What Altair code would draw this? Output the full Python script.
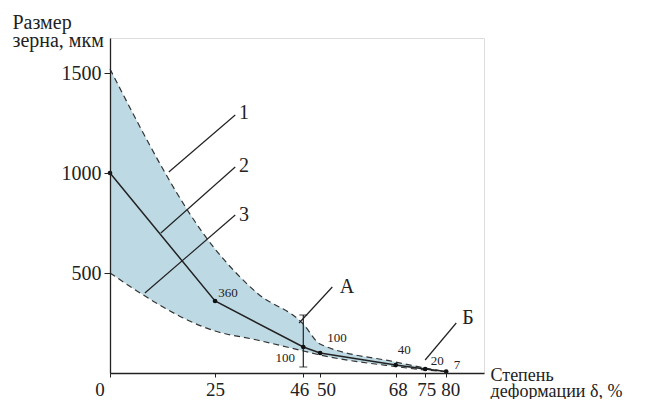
import altair as alt
import pandas as pd

FONT = "Liberation Serif"

# main curve (2)
main_x = [0, 25, 46, 50, 68, 75, 80]
main_y = [1000, 360, 130, 100, 40, 20, 7]

# band: upper (1) and lower (3) dashed boundaries
band_x = [0, 25, 35, 46, 50, 68, 75, 80]
upper_y = [1520, 620, 400, 245, 145, 55, 25, 7]
lower_y = [500, 210, 165, 110, 90, 32, 15, 7]

# error bar at 46 %
err_x = [46]
err_lo = [30]
err_hi = [290]

# small value labels
val_text = ["360", "100", "100", "40", "20", "7"]
val_x = [28.1, 54.0, 41.7, 70.0, 77.9, 82.6]
val_y = [400, 175, 75, 115, 60, 40]

# leader lines and their labels
lead_x = [14.0, 12.1, 8.3, 45.0, 75.0]
lead_y = [1005, 700, 400, 250, 65]
lead_x2 = [29.8, 29.8, 29.8, 52.9, 82.4]
lead_y2 = [1290, 1030, 790, 430, 250]
lead_text = ["1", "2", "3", "А", "Б"]
lead_tx = [31.9, 31.9, 31.9, 56.4, 85.2]
lead_ty = [1300, 1035, 790, 428, 275]

x_ticks = [0, 25, 46, 50, 68, 75, 80]
y_ticks = [500, 1000, 1500]

main_df = pd.DataFrame({"x": main_x, "y": main_y})
band_df = pd.DataFrame({"x": band_x, "up": upper_y, "lo": lower_y})
err_df = pd.DataFrame({"x": err_x, "lo": err_lo, "hi": err_hi})
val_df = pd.DataFrame({"x": val_x, "y": val_y, "t": val_text})
lead_df = pd.DataFrame({"x": lead_x, "y": lead_y, "x2": lead_x2, "y2": lead_y2})
lab_df = pd.DataFrame({"x": lead_tx, "y": lead_ty, "t": lead_text})
zero_df = pd.DataFrame({"x": [-2.4], "y": [-84], "t": ["0"]})

xs = alt.Scale(domain=[0, 89], nice=False, zero=False)
ys = alt.Scale(domain=[0, 1675], nice=False, zero=False)

label_shift = {
    "condition": [
        {"test": "datum.value == 46", "value": -4},
        {"test": "datum.value == 50", "value": 6},
        {"test": "datum.value == 68", "value": 2},
        {"test": "datum.value == 75", "value": 1},
        {"test": "datum.value == 80", "value": 4},
    ],
    "value": 0,
}

xaxis = alt.Axis(values=x_ticks, format="d",
                 labelExpr="datum.value == 0 ? '' : datum.label",
                 labelOffset=label_shift,
                 grid=False, domainColor="#222", domainWidth=1.3, tickColor="#222",
                 tickSize=4, labelPadding=3, labelFont=FONT, labelFontSize=19,
                 labelColor="#222", title=["Степень", "деформации δ, %"],
                 titleFont=FONT, titleFontSize=18, titleFontWeight="normal",
                 titleColor="#222", titleAngle=0, titleAlign="left",
                 titleBaseline="alphabetic", titleX=380, titleY=7, titleLineHeight=16,
                 labelFlush=False, labelOverlap=False, zindex=1)
yaxis = alt.Axis(values=y_ticks, format="d", grid=False, domainColor="#222",
                 domainWidth=1.3, tickColor="#222", tickSize=6, labelPadding=3,
                 labelFont=FONT, labelFontSize=20, labelColor="#222",
                 title=["Размер", "зерна, мкм"],
                 titleFont=FONT, titleFontSize=20, titleFontWeight="normal",
                 titleColor="#222", titleAngle=0, titleAlign="left",
                 titleBaseline="alphabetic", titleX=-98, titleY=-10, titleLineHeight=18,
                 labelFlush=False, zindex=1)

base_band = alt.Chart(band_df)
area = base_band.mark_area(color="#b9d7e1", opacity=0.95, interpolate="monotone").encode(
    x=alt.X("x:Q", scale=xs, axis=xaxis),
    y=alt.Y("up:Q", scale=ys, axis=yaxis),
    y2="lo:Q",
)
up_line = base_band.mark_line(color="#333", strokeWidth=1.2, strokeDash=[6, 4],
                              interpolate="monotone").encode(
    x=alt.X("x:Q", scale=xs), y=alt.Y("up:Q", scale=ys))
lo_line = base_band.mark_line(color="#333", strokeWidth=1.2, strokeDash=[6, 4],
                              interpolate="monotone").encode(
    x=alt.X("x:Q", scale=xs), y=alt.Y("lo:Q", scale=ys))

main_line = alt.Chart(main_df).mark_line(color="#222", strokeWidth=1.5).encode(
    x=alt.X("x:Q", scale=xs), y=alt.Y("y:Q", scale=ys))
main_pts = alt.Chart(main_df).mark_circle(color="#111", size=22, opacity=1).encode(
    x=alt.X("x:Q", scale=xs), y=alt.Y("y:Q", scale=ys))

err_rule = alt.Chart(err_df).mark_rule(color="#222", strokeWidth=1.2).encode(
    x=alt.X("x:Q", scale=xs), y=alt.Y("lo:Q", scale=ys), y2="hi:Q")
err_cap_lo = alt.Chart(err_df).mark_tick(color="#222", thickness=1.2, size=8,
                                         orient="horizontal").encode(
    x=alt.X("x:Q", scale=xs), y=alt.Y("lo:Q", scale=ys))
err_cap_hi = alt.Chart(err_df).mark_tick(color="#222", thickness=1.2, size=8,
                                         orient="horizontal").encode(
    x=alt.X("x:Q", scale=xs), y=alt.Y("hi:Q", scale=ys))

leads = alt.Chart(lead_df).mark_rule(color="#222", strokeWidth=1.2).encode(
    x=alt.X("x:Q", scale=xs), y=alt.Y("y:Q", scale=ys), x2="x2:Q", y2="y2:Q")
lead_labels = alt.Chart(lab_df).mark_text(font=FONT, fontSize=20, color="#222",
                                          align="center", baseline="middle").encode(
    x=alt.X("x:Q", scale=xs), y=alt.Y("y:Q", scale=ys), text="t:N")
val_labels = alt.Chart(val_df).mark_text(font=FONT, fontSize=13, color="#222",
                                         align="center", baseline="middle").encode(
    x=alt.X("x:Q", scale=xs), y=alt.Y("y:Q", scale=ys), text="t:N")
zero_label = alt.Chart(zero_df).mark_text(font=FONT, fontSize=19, color="#222",
                                          align="center", baseline="middle").encode(
    x=alt.X("x:Q", scale=xs), y=alt.Y("y:Q", scale=ys), text="t:N")

chart = alt.layer(area, up_line, lo_line, main_line, err_rule, err_cap_lo, err_cap_hi,
                  main_pts, leads, lead_labels, val_labels, zero_label).properties(
    width=374, height=335,
    autosize=alt.AutoSizeParams(type="none"),
    padding={"left": 102, "top": 30, "right": 161, "bottom": 26},
).configure_view(stroke=None).configure(background="white")

chart.save("out.html", embed_options={"renderer": "svg", "actions": False})
